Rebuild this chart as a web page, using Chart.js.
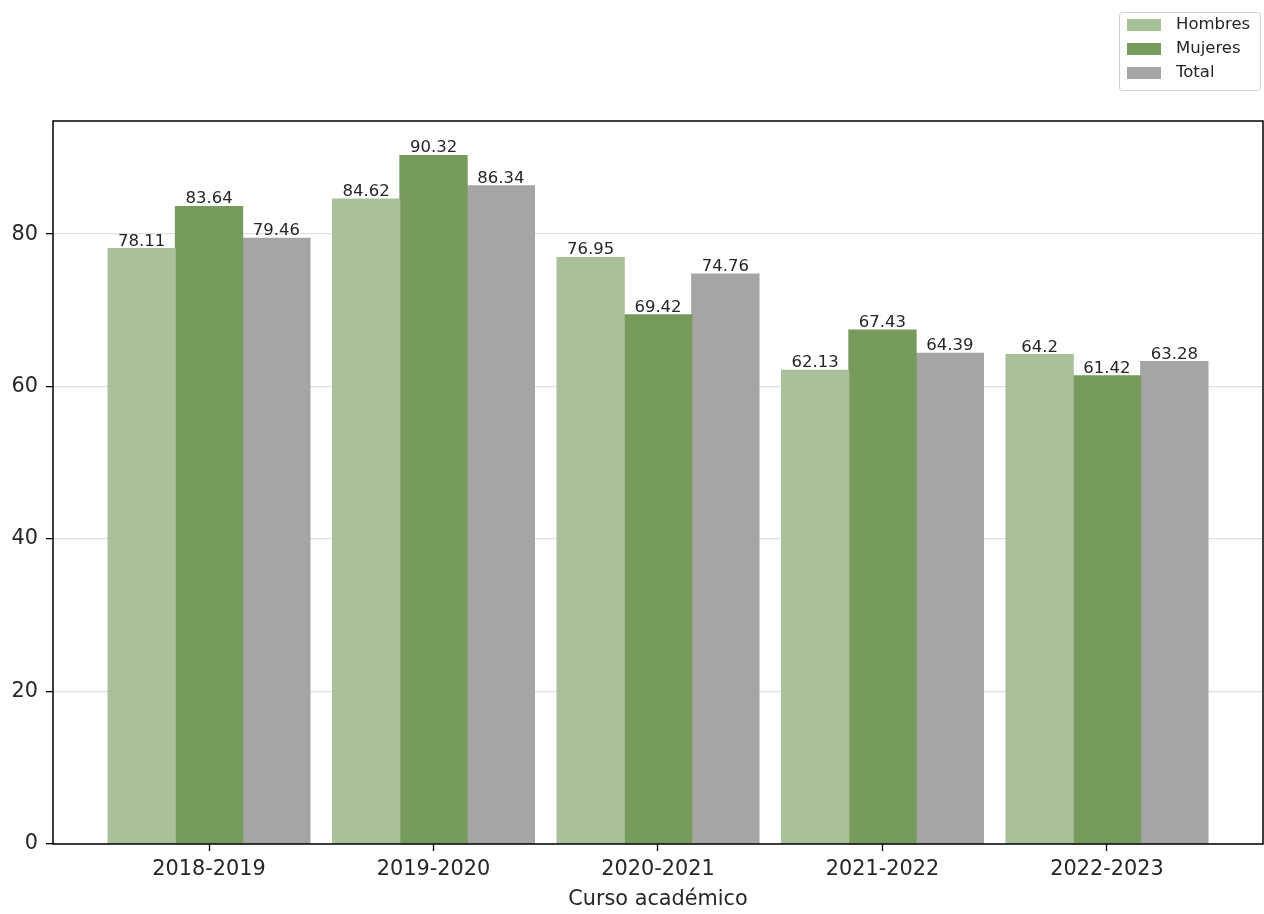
<!DOCTYPE html>
<html>
<head>
<meta charset="utf-8">
<script src="https://cdn.jsdelivr.net/npm/chart.js@4"></script>
<style>
  html, body { margin: 0; padding: 0; background: #fff; }
  #wrap { width: 1264px; height: 914px; }
</style>
</head>
<body>
<div id="wrap"><canvas id="chart" width="1264" height="914"></canvas></div>
<script>
const CATEGORIES = ["2018-2019", "2019-2020", "2020-2021", "2021-2022", "2022-2023"];
const HOMBRES = [78.11, 84.62, 76.95, 62.13, 64.2];
const MUJERES = [83.64, 90.32, 69.42, 67.43, 61.42];
const TOTAL = [79.46, 86.34, 74.76, 64.39, 63.28];
const Y_TICKS = [0, 20, 40, 60, 80];

const FONT = "'DejaVu Sans', sans-serif";
const TEXT = "#262626";
const COLORS = { hombres: "#a9c09a", mujeres: "#779a5d", total: "#a5a5a5" };

function series(values) {
  return values.map((v, i) => ({ x: i, y: v }));
}

// value labels on top of each bar, like bar_label
const barLabels = {
  id: "barLabels",
  afterDraw(chart) {
    const ctx = chart.ctx;
    ctx.save();
    ctx.font = `16.5px ${FONT}`;
    ctx.fillStyle = TEXT;
    ctx.textAlign = "center";
    ctx.textBaseline = "alphabetic";
    chart.data.datasets.forEach((ds, di) => {
      chart.getDatasetMeta(di).data.forEach((el, i) => {
        ctx.fillText(String(ds.data[i].y), el.x, el.y - 3);
      });
    });
    ctx.restore();
  },
};

// full box around the plot area
const frame = {
  id: "frame",
  afterDraw(chart) {
    const { left, top, right, bottom } = chart.chartArea;
    const ctx = chart.ctx;
    ctx.save();
    ctx.strokeStyle = "#000";
    ctx.lineWidth = 1.5;
    ctx.strokeRect(left, top, right - left, bottom - top);
    ctx.restore();
  },
};

// legend box in the upper right corner, one entry per row
const boxLegend = {
  id: "boxLegend",
  afterDraw(chart) {
    const ctx = chart.ctx;
    const x0 = 1119, y0 = 12, w = 141, h = 78;
    ctx.save();
    ctx.fillStyle = "#fff";
    ctx.strokeStyle = "#d0d0d0";
    ctx.lineWidth = 1;
    ctx.beginPath();
    ctx.roundRect(x0 + 0.5, y0 + 0.5, w, h, 3);
    ctx.fill();
    ctx.stroke();
    ctx.font = `16.5px ${FONT}`;
    ctx.textBaseline = "middle";
    ctx.textAlign = "left";
    chart.data.datasets.forEach((ds, i) => {
      const cy = y0 + 13 + i * 24;
      ctx.fillStyle = ds.backgroundColor;
      ctx.fillRect(x0 + 8, cy - 6, 34, 12);
      ctx.fillStyle = TEXT;
      ctx.fillText(ds.label, x0 + 57, cy);
    });
    ctx.restore();
  },
};

new Chart(document.getElementById("chart"), {
  type: "bar",
  data: {
    datasets: [
      { label: "Hombres", data: series(HOMBRES), backgroundColor: COLORS.hombres },
      { label: "Mujeres", data: series(MUJERES), backgroundColor: COLORS.mujeres },
      { label: "Total", data: series(TOTAL), backgroundColor: COLORS.total },
    ],
  },
  options: {
    responsive: false,
    animation: false,
    devicePixelRatio: 1,
    layout: { padding: { top: 121, right: 1, left: 0, bottom: 0 } },
    datasets: { bar: { categoryPercentage: 0.9, barPercentage: 1.0, borderWidth: 0, inflateAmount: 0.5 } },
    plugins: { legend: { display: false }, tooltip: { enabled: false } },
    scales: {
      x: {
        type: "linear",
        offset: false,
        min: -0.695,
        max: CATEGORIES.length - 1 + 0.695,
        afterBuildTicks: (scale) => { scale.ticks = CATEGORIES.map((c, i) => ({ value: i })); },
        afterFit: (scale) => { scale.height = 70; },
        ticks: {
          autoSkip: false,
          maxRotation: 0,
          padding: 6,
          color: TEXT,
          font: { family: FONT, size: 20.8 },
          callback: (v) => CATEGORIES[v] ?? "",
        },
        grid: { offset: false, drawOnChartArea: false, drawTicks: true, tickLength: 7, tickColor: "#000", tickWidth: 1.3 },
        border: { display: false },
        title: {
          display: true,
          text: "Curso académico",
          color: TEXT,
          font: { family: FONT, size: 20.8 },
          padding: { top: 0, bottom: 2 },
        },
      },
      y: {
        min: 0,
        max: 94.84,
        z: 1,
        afterBuildTicks: (scale) => { scale.ticks = Y_TICKS.map((v) => ({ value: v })); },
        afterFit: (scale) => { scale.width = 53; },
        ticks: {
          padding: 8,
          color: TEXT,
          font: { family: FONT, size: 20.8 },
        },
        grid: { color: "rgba(200,200,200,0.55)", lineWidth: 1.3, tickLength: 7, tickColor: "#000", tickWidth: 1.3 },
        border: { display: false },
      },
    },
  },
  plugins: [barLabels, frame, boxLegend],
});
</script>
</body>
</html>
